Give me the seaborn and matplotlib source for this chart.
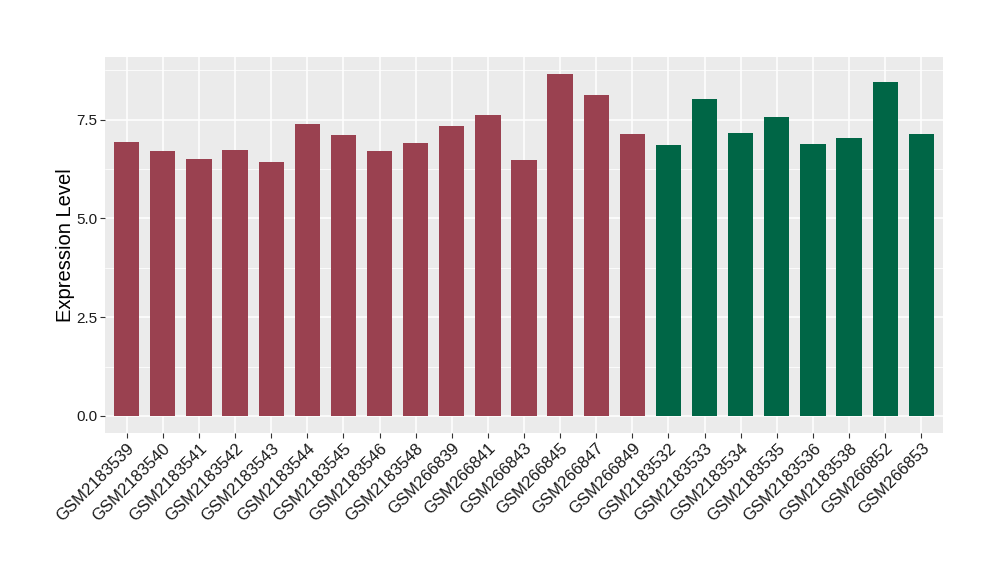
import matplotlib
matplotlib.use("Agg")
import matplotlib.pyplot as plt
import seaborn as sns
import pandas as pd
from matplotlib.ticker import MultipleLocator

samples = ["GSM2183539", "GSM2183540", "GSM2183541", "GSM2183542", "GSM2183543",
           "GSM2183544", "GSM2183545", "GSM2183546", "GSM2183548", "GSM266839",
           "GSM266841", "GSM266843", "GSM266845", "GSM266847", "GSM266849",
           "GSM2183532", "GSM2183533", "GSM2183534", "GSM2183535", "GSM2183536",
           "GSM2183538", "GSM266852", "GSM266853"]
values = [6.93, 6.70, 6.50, 6.72, 6.42, 7.38, 7.10, 6.70, 6.90, 7.33,
          7.61, 6.47, 8.65, 8.11, 7.13, 6.85, 8.01, 7.15, 7.56, 6.88,
          7.03, 8.44, 7.13]
groups = ["A"] * 15 + ["B"] * 8
group_colors = {"A": "#9A4150", "B": "#006646"}

df = pd.DataFrame({"sample": samples, "value": values, "group": groups})

sns.set_theme(style="darkgrid")
plt.rcParams["font.family"] = ["Liberation Sans", "DejaVu Sans"]

fig = plt.figure(figsize=(10, 5.8), dpi=100)
ax = fig.add_axes([0.105, 0.2534, 0.838, 0.6483])
ax.set_facecolor("#EBEBEB")

sns.barplot(data=df, x="sample", y="value", hue="group", palette=group_colors,
            dodge=False, width=0.7, saturation=1, legend=False, ax=ax,
            linewidth=0, edgecolor="none")

vmax = max(values)
ax.set_ylim(-0.05 * vmax, 1.05 * vmax)
ax.set_xlim(-0.6, len(samples) - 0.4)
ax.yaxis.set_major_locator(MultipleLocator(2.5))
ax.yaxis.set_minor_locator(MultipleLocator(1.25))
ax.yaxis.set_major_formatter(matplotlib.ticker.FormatStrFormatter("%.1f"))
ax.grid(which="major", color="white", linewidth=1.1)
ax.grid(which="minor", axis="y", color="white", linewidth=0.55)
ax.set_axisbelow(True)
for s in ax.spines.values():
    s.set_visible(False)

ax.set_xlabel("")
ax.set_ylabel("Expression Level", fontsize=14.5, color="black", labelpad=1)
ax.tick_params(axis="both", which="major", length=3.5, width=0.8, color="#333333",
               labelcolor="#1a1a1a", pad=2, bottom=True, left=True)
ax.tick_params(axis="y", which="major", labelsize=11)
ax.tick_params(axis="x", which="major", labelsize=12)
ax.tick_params(axis="y", which="minor", length=0)
plt.setp(ax.get_xticklabels(), rotation=45, ha="right", rotation_mode="anchor")

fig.savefig("out.png", dpi=100)
